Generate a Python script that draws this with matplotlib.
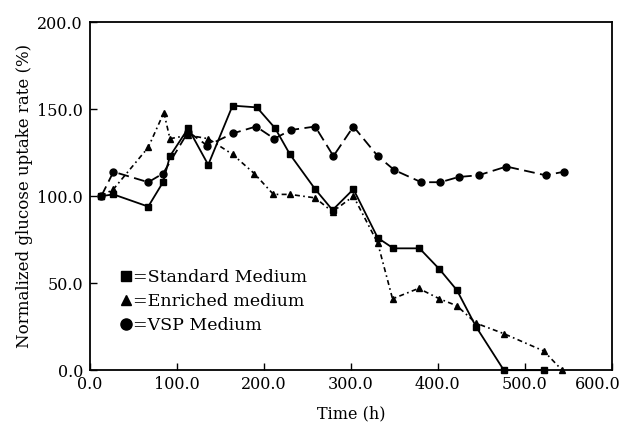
import matplotlib
matplotlib.use("Agg")
import matplotlib.pyplot as plt
import matplotlib.transforms as mtransforms
from matplotlib.lines import Line2D

# Data
std_time = [13, 27, 67, 84, 92, 113, 136, 164, 192, 213, 230, 259, 279, 303, 331, 349, 379, 402, 422, 444, 476, 522]
std_vals = [100, 101, 94, 108, 123, 139, 118, 152, 151, 139, 124, 104, 92, 104, 76, 70, 70, 58, 46, 25, 0, 0]

enr_time = [13, 27, 67, 85, 92, 113, 136, 164, 189, 211, 230, 259, 279, 303, 331, 348, 378, 402, 422, 444, 476, 522, 543]
enr_vals = [100, 104, 128, 148, 133, 135, 133, 124, 113, 101, 101, 99, 91, 100, 73, 41, 47, 41, 37, 27, 21, 11, 0]

vsp_time = [13, 27, 67, 84, 113, 135, 164, 191, 212, 231, 259, 280, 303, 331, 350, 381, 403, 424, 447, 479, 524, 545]
vsp_vals = [100, 114, 108, 113, 137, 129, 136, 140, 133, 138, 140, 123, 140, 123, 115, 108, 108, 111, 112, 117, 112, 114]

labels = ["=Standard Medium", "=Enriched medium", "=VSP Medium"]
xticks = [0, 100, 200, 300, 400, 500, 600]
yticks = [0, 50, 100, 150, 200]

plt.rcParams['font.family'] = ['DejaVu Serif']

fig = plt.figure(figsize=(6.27, 4.25), dpi=100)
ax = fig.add_axes([0.1435, 0.129, 0.832, 0.819])

ax.plot(std_time, std_vals, color='black', lw=1.3, ls='-', marker='s', ms=5, clip_on=False)
ax.plot(enr_time, enr_vals, color='black', lw=1.2, ls=(0, (3, 2, 1, 2)), marker='^', ms=5, clip_on=False)
ax.plot(vsp_time, vsp_vals, color='black', lw=1.3, ls=(0, (6, 3)), marker='o', ms=5, clip_on=False)

ax.set_xlim(0, 600)
ax.set_ylim(0, 200)
ax.set_xticks(xticks)
ax.set_xticklabels([f"{v:.1f}" for v in xticks], fontsize=11.5)
ax.set_yticks(yticks)
ax.set_yticklabels([f"{v:.1f}" for v in yticks], fontsize=11.5)
ax.tick_params(direction='in', length=5, width=1)
ax.tick_params(axis='y', pad=5)
ax.tick_params(axis='x', pad=4)
for s in ax.spines.values():
    s.set_linewidth(1.3)

# shift the last x tick label left so it stays inside the figure
last = ax.get_xticklabels()[-1]
last.set_transform(last.get_transform() + mtransforms.ScaledTranslation(-14 / 100, 0, fig.dpi_scale_trans))

ax.set_xlabel("Time (h)", fontsize=11.5, labelpad=9)
ax.set_ylabel("Normalized glucose uptake rate (%)", fontsize=12, labelpad=3)

handles = [Line2D([], [], color='black', marker=m, ls='none', ms=ms)
           for m, ms in [('s', 7), ('^', 7), ('o', 8)]]
ax.legend(handles, labels, loc='lower left', bbox_to_anchor=(0.045, 0.085),
          frameon=False, fontsize=12.5, handlelength=0.6, handletextpad=0.1,
          labelspacing=0.4, borderaxespad=0)

fig.savefig("out.png", dpi=100)
